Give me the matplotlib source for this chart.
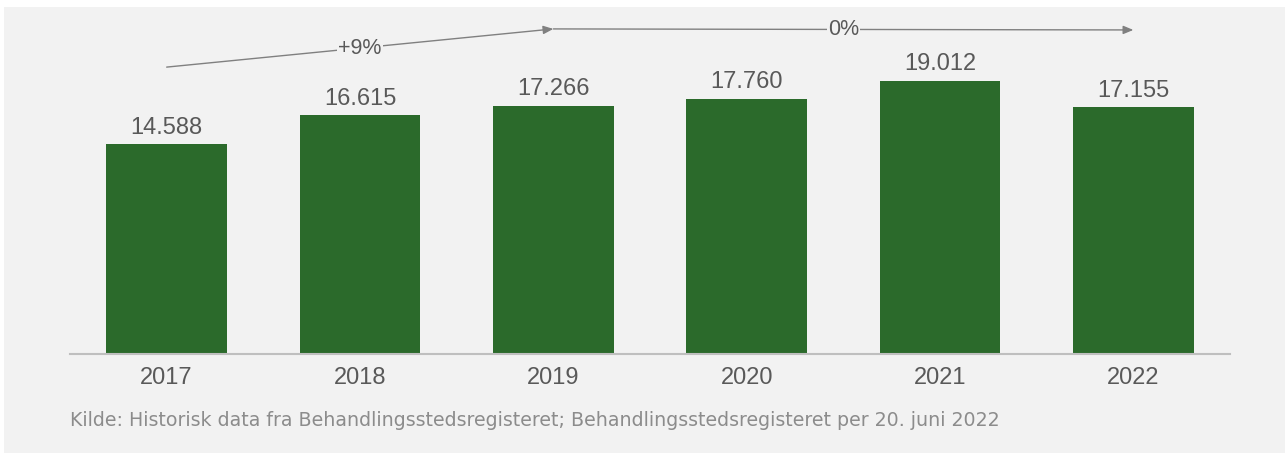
import matplotlib.pyplot as plt
from matplotlib import font_manager
from matplotlib.patches import Rectangle
import matplotlib.transforms as mtransforms

years = ['2017', '2018', '2019', '2020', '2021', '2022']
counts = [14588, 16615, 17266, 17760, 19012, 17155]
value_labels = ['14.588', '16.615', '17.266', '17.760', '19.012', '17.155']
growth_labels = ['+9%', '0%']
source = 'Kilde: Historisk data fra Behandlingsstedsregisteret; Behandlingsstedsregisteret per 20. juni 2022'

BG = '#f2f2f2'
GREEN = '#2b6a2b'
TEXT = '#595959'
W, H = 1285, 455

# narrow sans if there is one, otherwise Liberation Sans
font = 'Liberation Sans'
for name in ['DejaVu Sans Condensed', 'Liberation Sans Narrow']:
    try:
        font_manager.findfont(name, fallback_to_default=False)
        font = name
        break
    except ValueError:
        pass
plt.rcParams['font.family'] = [font, 'DejaVu Sans']

fig = plt.figure(figsize=(W / 100, H / 100), dpi=100)
fig.patch.set_facecolor('white')
fig.patches.append(Rectangle((4 / W, 2 / H), 1 - 4 / W, 446 / H,
                             transform=fig.transFigure, facecolor=BG,
                             edgecolor='none', zorder=-5))

ax = fig.add_axes([70 / W, (H - 354) / H, 1160 / W, 344 / H])
ax.set_facecolor('none')

x = list(range(len(years)))
bars = ax.bar(x, counts, width=0.625, color=GREEN, zorder=2)
ax.set_xlim(-0.5, len(years) - 0.5)
ax.set_ylim(0, 23930)

for rect, lab in zip(bars, value_labels):
    ax.annotate(lab, (rect.get_x() + rect.get_width() / 2, rect.get_height()),
                xytext=(0, 7.5), textcoords='offset points',
                ha='center', va='baseline', fontsize=17, color=TEXT)

ax.set_xticks(x, years)
ax.tick_params(axis='x', length=0, pad=9, labelsize=17, labelcolor=TEXT)
ax.set_yticks([])
for side in ['top', 'right', 'left']:
    ax.spines[side].set_visible(False)
ax.spines['bottom'].set_color('#bfbfbf')
ax.spines['bottom'].set_linewidth(1.5)

# growth arrows: 2017 -> 2019 and 2019 -> 2022
trans = mtransforms.blended_transform_factory(ax.transData, ax.transAxes)
arrow = dict(arrowstyle='-|>,head_length=0.6,head_width=0.25', color='#808080',
             lw=1.0, mutation_scale=10, shrinkA=0, shrinkB=0)
ax.annotate('', xy=(2, 0.945), xytext=(0, 0.834),
            xycoords=trans, textcoords=trans, arrowprops=arrow)
ax.annotate('', xy=(5, 0.942), xytext=(2, 0.945),
            xycoords=trans, textcoords=trans, arrowprops=arrow)
label_box = dict(boxstyle='square,pad=0.05', facecolor=BG, edgecolor='none')
ax.text(1, 0.8895, growth_labels[0], transform=trans, ha='center', va='center',
        fontsize=15.5, color=TEXT, bbox=label_box, zorder=5)
ax.text(3.5, 0.9435, growth_labels[1], transform=trans, ha='center', va='center',
        fontsize=15.5, color=TEXT, bbox=label_box, zorder=5)

fig.text(70 / W, (H - 426) / H, source, ha='left', va='baseline',
         fontsize=13.7, color='#8c8c8c', family=['DejaVu Sans'])

fig.savefig('out.png', dpi=100, facecolor=fig.get_facecolor())
